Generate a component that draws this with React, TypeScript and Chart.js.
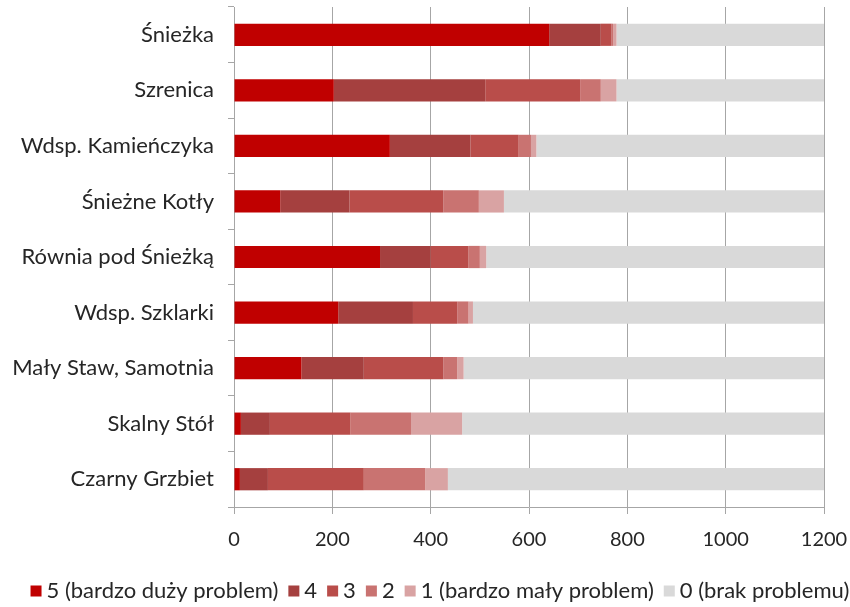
import React, { useEffect, useRef } from "react";
import { Chart, registerables } from "chart.js";

Chart.register(...registerables);

const categories = [
  "Śnieżka",
  "Szrenica",
  "Wdsp. Kamieńczyka",
  "Śnieżne Kotły",
  "Równia pod Śnieżką",
  "Wdsp. Szklarki",
  "Mały Staw, Samotnia",
  "Skalny Stół",
  "Czarny Grzbiet",
];

const seriesLabels = [
  "5 (bardzo duży problem)",
  "4",
  "3",
  "2",
  "1 (bardzo mały problem)",
  "0 (brak problemu)",
];

const level5 = [641, 203, 317, 94, 297, 212, 137, 14, 12];
const level4 = [105, 308, 164, 141, 103, 152, 127, 59, 57];
const level3 = [22, 193, 98, 191, 77, 90, 162, 164, 195];
const level2 = [3, 42, 25, 72, 23, 23, 28, 123, 125];
const level1 = [7, 32, 11, 51, 13, 9, 13, 104, 46];
const level0 = [422, 422, 585, 651, 687, 714, 733, 736, 766];

const xTicks = [0, 200, 400, 600, 800, 1000, 1200];

const colors = ["#C00000", "#A5403F", "#B94D4A", "#C97371", "#D9A3A3", "#D9D9D9"];

const FAMILY = "Lato, 'Noto Sans', sans-serif";
const TEXT = "#262626";

const customLegend = {
  id: "customLegend",
  afterDraw(chart: any) {
    const ctx = chart.ctx;
    const size = 22;
    const box = 11;
    const gapBoxText = 5;
    const gapItems = 10;
    ctx.save();
    ctx.font = `${size}px ${FAMILY}`;
    const items = chart.data.datasets.map((d: any) => ({
      text: d.label as string,
      color: d.backgroundColor as string,
      w: ctx.measureText(d.label).width,
    }));
    const total =
      items.reduce((s: number, it: any) => s + box + gapBoxText + it.w, 0) +
      gapItems * (items.length - 1);
    const centerX = 440;
    const cy = 591;
    let x = centerX - total / 2;
    ctx.textBaseline = "middle";
    ctx.textAlign = "left";
    for (const it of items) {
      ctx.fillStyle = it.color;
      ctx.fillRect(x, cy - box / 2, box, box);
      x += box + gapBoxText;
      ctx.fillStyle = TEXT;
      ctx.fillText(it.text, x, cy);
      x += it.w + gapItems;
    }
    ctx.restore();
  },
};

export default function App() {
  const ref = useRef<HTMLCanvasElement | null>(null);

  useEffect(() => {
    document.body.style.margin = "0";
    const canvas = ref.current;
    if (!canvas) return;
    const values = [level5, level4, level3, level2, level1, level0];
    const chart = new Chart(canvas, {
      type: "bar",
      data: {
        labels: categories,
        datasets: values.map((v, i) => ({
          label: seriesLabels[i],
          data: v,
          backgroundColor: colors[i],
          borderWidth: 0,
          categoryPercentage: 1,
          barPercentage: 0.4,
        })),
      },
      plugins: [customLegend],
      options: {
        indexAxis: "y",
        animation: false,
        responsive: false,
        layout: { padding: { top: 7, right: 26, left: 0, bottom: 50 } },
        plugins: {
          tooltip: { enabled: false },
          legend: { display: false },
        },
        scales: {
          x: {
            stacked: true,
            min: 0,
            max: 1200,
            afterBuildTicks: (scale: any) => {
              scale.ticks = xTicks.map((v) => ({ value: v }));
            },
            afterFit: (scale: any) => {
              scale.height = 50;
              scale.paddingLeft = 0;
              scale.paddingRight = 0;
            },
            grid: {
              color: "#A6A6A6",
              lineWidth: 1,
              tickLength: 7,
            },
            border: { display: true, color: "#A6A6A6" },
            ticks: {
              color: TEXT,
              font: { family: FAMILY, size: 20 },
              padding: 14,
              callback: (v: any) => String(v),
            },
          },
          y: {
            stacked: true,
            afterFit: (scale: any) => {
              scale.width = 234;
              scale.paddingTop = 0;
              scale.paddingBottom = 0;
            },
            grid: {
              drawOnChartArea: false,
              color: "#A6A6A6",
              offset: true,
              tickLength: 6,
            },
            border: { display: true, color: "#A6A6A6" },
            ticks: { color: TEXT, font: { family: FAMILY, size: 22 }, padding: 14 },
          },
        },
      },
    });
    return () => chart.destroy();
  }, []);

  return (
    <div style={{ width: 850, height: 607 }}>
      <canvas ref={ref} width={850} height={607} />
    </div>
  );
}
